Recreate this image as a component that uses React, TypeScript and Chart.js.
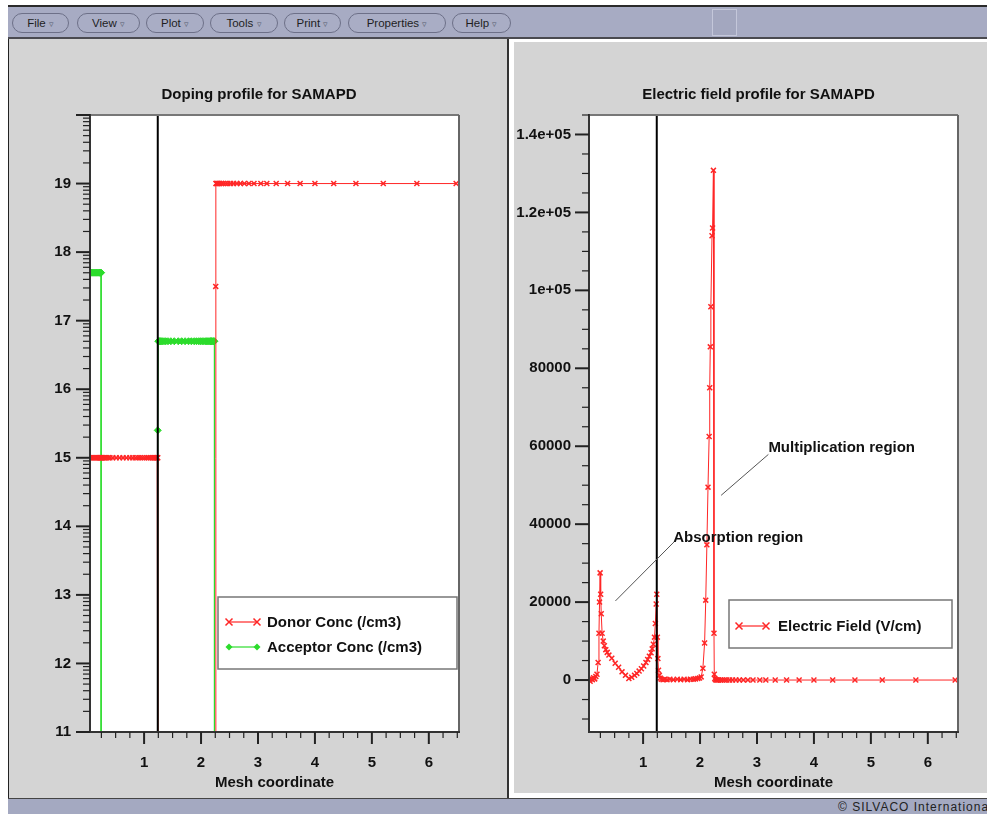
import React, { useEffect, useRef } from 'react';
import { Chart, registerables } from 'chart.js';

Chart.register(...registerables);

const FONT = "'Liberation Sans', Arial, Helvetica, sans-serif";
const RED = '#ff2626';
const GREEN = '#2cdc2c';
const INK = '#111111';

type Pt = [number, number];

// ---------------- data ----------------
const meshTicksX = [1, 2, 3, 4, 5, 6];
const dopingTicksY = [11, 12, 13, 14, 15, 16, 17, 18, 19];
const fieldTicksY = [0, 20000, 40000, 60000, 80000, 100000, 120000, 140000];
const fieldTickLabels = ['0', '20000', '40000', '60000', '80000', '1e+05', '1.2e+05', '1.4e+05'];
const junctionX = 1.24;

// log10 of donor concentration (/cm3); 10 = below plotted range
const donorConc: Pt[] = [
  [0.05, 15], [0.07, 15], [0.09, 15], [0.11, 15], [0.13, 15], [0.15, 15], [0.17, 15], [0.19, 15],
  [0.21, 15], [0.225, 15], [0.235, 15], [0.245, 15], [0.255, 15], [0.265, 15], [0.28, 15], [0.3, 15],
  [0.32, 15], [0.345, 15], [0.37, 15], [0.4, 15], [0.45, 15], [0.51, 15], [0.57, 15], [0.63, 15],
  [0.69, 15], [0.75, 15], [0.8, 15], [0.85, 15], [0.89, 15], [0.93, 15], [0.97, 15], [1.01, 15],
  [1.05, 15], [1.08, 15], [1.11, 15], [1.14, 15], [1.16, 15], [1.18, 15], [1.2, 15], [1.215, 15],
  [1.23, 15], [1.24, 15],
  [1.24, 10], [2.258, 10],
  [2.258, 17.5], [2.262, 19], [2.27, 19], [2.29, 19], [2.31, 19], [2.33, 19], [2.36, 19],
  [2.39, 19], [2.43, 19], [2.47, 19], [2.52, 19], [2.57, 19], [2.63, 19], [2.69, 19], [2.76, 19],
  [2.84, 19], [2.93, 19], [3.05, 19], [3.155, 19], [3.32, 19], [3.52, 19], [3.74, 19], [4.0, 19],
  [4.33, 19], [4.72, 19], [5.2, 19], [5.79, 19], [6.48, 19],
];

// log10 of acceptor concentration (/cm3); 10 = below plotted range
const acceptorConc: Pt[] = [
  [0.05, 17.7], [0.07, 17.7], [0.09, 17.7], [0.11, 17.7], [0.13, 17.7], [0.15, 17.7], [0.17, 17.7],
  [0.19, 17.7], [0.21, 17.7], [0.225, 17.7], [0.235, 17.7], [0.245, 17.7],
  [0.245, 10], [1.24, 10], [1.24, 15.4],
  [1.25, 16.7], [1.26, 16.7], [1.27, 16.7], [1.285, 16.7], [1.3, 16.7], [1.32, 16.7], [1.35, 16.7],
  [1.38, 16.7], [1.42, 16.7], [1.47, 16.7], [1.53, 16.7], [1.6, 16.7], [1.66, 16.7], [1.72, 16.7],
  [1.78, 16.7], [1.83, 16.7], [1.88, 16.7], [1.92, 16.7], [1.96, 16.7], [1.99, 16.7], [2.02, 16.7],
  [2.05, 16.7], [2.08, 16.7], [2.1, 16.7], [2.12, 16.7], [2.14, 16.7], [2.16, 16.7], [2.17, 16.7],
  [2.18, 16.7], [2.19, 16.7], [2.21, 16.7], [2.22, 16.7], [2.235, 16.7],
  [2.235, 10], [6.48, 10],
];

// electric field (V/cm)
const electricField: Pt[] = [
  [0.05, 200], [0.07, -300], [0.09, 400], [0.11, 100], [0.13, 600], [0.15, 300], [0.17, 900],
  [0.19, 1500], [0.21, 4500], [0.225, 12000], [0.235, 20000], [0.245, 27500],
  [0.255, 22000], [0.265, 17000], [0.28, 12000], [0.3, 10000], [0.32, 8800], [0.345, 7800],
  [0.37, 7100], [0.4, 6400], [0.45, 5600], [0.51, 4300], [0.57, 3300], [0.63, 2100], [0.69, 1200],
  [0.75, 400], [0.8, 700], [0.85, 1200], [0.89, 1700], [0.93, 2300], [0.97, 2900], [1.01, 3600],
  [1.05, 4500], [1.08, 5300], [1.11, 6100], [1.14, 7000], [1.16, 8000], [1.18, 9200], [1.2, 11000],
  [1.215, 14500], [1.23, 19500], [1.24, 22000],
  [1.25, 11000], [1.26, 5500], [1.27, 2500], [1.285, 1200], [1.3, 500], [1.32, 200], [1.35, 100],
  [1.38, 200], [1.42, 100], [1.47, 200], [1.53, 100], [1.6, 200], [1.66, 100], [1.72, 200],
  [1.78, 100], [1.83, 200], [1.88, 200], [1.92, 300], [1.96, 400], [1.99, 500], [2.02, 800],
  [2.05, 3000], [2.08, 9500], [2.1, 20500], [2.12, 34700], [2.14, 49500], [2.16, 62500],
  [2.17, 75000], [2.18, 85500], [2.19, 95800], [2.21, 114000], [2.22, 116000], [2.235, 130800],
  [2.245, 12000], [2.25, 1500], [2.26, 400], [2.27, 100], [2.29, 0], [2.31, 0], [2.33, 0],
  [2.36, 0], [2.39, 0], [2.43, 0], [2.47, 0], [2.52, 0], [2.57, 0], [2.63, 0], [2.69, 0],
  [2.76, 0], [2.84, 0], [2.93, 0], [3.05, 0], [3.155, 0], [3.32, 0], [3.52, 0], [3.74, 0],
  [4.0, 0], [4.33, 0], [4.72, 0], [5.2, 0], [5.79, 0], [6.48, 0],
];

// ---------------- helpers ----------------
const toXY = (p: Pt[]) => p.map(([x, y]) => ({ x, y }));

function range(a: number, b: number, step: number) {
  const out: number[] = [];
  for (let v = a; v <= b + 1e-9; v += step) out.push(+v.toFixed(6));
  return out;
}

const xMinorTicks = range(0.25, 6.5, 0.25).filter((v) => Math.abs(v - Math.round(v)) > 1e-6);
const dopingMinorTicks: number[] = [];
for (let n = 11; n < 20; n++) for (let k = 2; k <= 9; k++) dopingMinorTicks.push(n + Math.log10(k));
const fieldMinorTicks = range(-10000, 145000, 5000).filter((v) => v % 20000 !== 0);

function drawMarker(ctx: CanvasRenderingContext2D, kind: string, x: number, y: number, color: string) {
  ctx.save();
  ctx.strokeStyle = color;
  ctx.fillStyle = color;
  ctx.lineWidth = 1.5;
  if (kind === 'cross') {
    const r = 3.5;
    ctx.beginPath();
    ctx.moveTo(x - r, y - r); ctx.lineTo(x + r, y + r);
    ctx.moveTo(x + r, y - r); ctx.lineTo(x - r, y + r);
    ctx.stroke();
  } else {
    const r = 3.5;
    ctx.beginPath();
    ctx.moveTo(x, y - r); ctx.lineTo(x + r, y); ctx.lineTo(x, y + r); ctx.lineTo(x - r, y);
    ctx.closePath();
    ctx.fill();
  }
  ctx.restore();
}

interface DecorCfg {
  title: { text: string; x: number; y: number };
  yMajor: number[];
  yMinor: number[];
  legend: {
    rightInset: number; bottomInset: number; width: number; height: number;
    sampleX: number; sampleLen: number; textX: number;
    rows: { label: string; color: string; marker: string; dy: number }[];
  };
  notes: { text: string; at: Pt; from: Pt; to: Pt }[];
}

function makeDecor(cfg: DecorCfg) {
  return {
    id: 'decor',
    beforeDraw(chart: any) {
      const { ctx, chartArea: a } = chart;
      ctx.save();
      ctx.fillStyle = '#ffffff';
      ctx.fillRect(a.left, a.top, a.right - a.left, a.bottom - a.top);
      ctx.fillStyle = INK;
      ctx.font = `bold 15px ${FONT}`;
      ctx.textAlign = 'center';
      ctx.textBaseline = 'middle';
      ctx.fillText(cfg.title.text, cfg.title.x, cfg.title.y);
      ctx.restore();
    },
    afterDatasetsDraw(chart: any) {
      const { ctx, chartArea: a, scales } = chart;
      const xs = scales.x;
      const ys = scales.y;
      const seg = (x1: number, y1: number, x2: number, y2: number, w: number, c: string) => {
        ctx.strokeStyle = c;
        ctx.lineWidth = w;
        ctx.beginPath();
        ctx.moveTo(x1, y1);
        ctx.lineTo(x2, y2);
        ctx.stroke();
      };
      ctx.save();

      // annotations
      for (const n of cfg.notes) {
        seg(xs.getPixelForValue(n.from[0]), ys.getPixelForValue(n.from[1]),
          xs.getPixelForValue(n.to[0]), ys.getPixelForValue(n.to[1]), 1, '#555');
        ctx.fillStyle = INK;
        ctx.font = `bold 15px ${FONT}`;
        ctx.textAlign = 'left';
        ctx.textBaseline = 'middle';
        ctx.fillText(n.text, xs.getPixelForValue(n.at[0]), ys.getPixelForValue(n.at[1]));
      }

      // frame
      seg(a.left, a.top, a.right, a.top, 2, '#777');
      seg(a.right, a.top, a.right, a.bottom, 2, '#666');
      seg(a.left, a.top - 1, a.left, a.bottom + 1, 2, '#333');
      seg(a.left - 1, a.bottom, a.right + 1, a.bottom, 2, '#333');

      // x ticks
      for (const v of xMinorTicks) {
        const px = xs.getPixelForValue(v);
        seg(px, a.bottom, px, a.bottom + 6, 1.2, '#222');
      }
      for (const v of meshTicksX) {
        const px = xs.getPixelForValue(v);
        seg(px, a.bottom, px, a.bottom + 12, 2, '#222');
      }
      // y ticks
      for (const v of cfg.yMinor) {
        const py = ys.getPixelForValue(v);
        if (py < a.top - 0.5 || py > a.bottom + 0.5) continue;
        seg(a.left - 7, py, a.left, py, 1.2, '#222');
      }
      for (const v of cfg.yMajor) {
        const py = ys.getPixelForValue(v);
        seg(a.left - 14, py, a.left, py, 2, '#222');
      }

      // legend
      const L = cfg.legend;
      const bx = a.right - L.rightInset - L.width;
      const by = a.bottom - L.bottomInset - L.height;
      ctx.fillStyle = '#ffffff';
      ctx.fillRect(bx, by, L.width, L.height);
      ctx.strokeStyle = '#777';
      ctx.lineWidth = 1.5;
      ctx.strokeRect(bx, by, L.width, L.height);
      for (const r of L.rows) {
        const ry = by + r.dy;
        seg(bx + L.sampleX, ry, bx + L.sampleX + L.sampleLen, ry, 1.2, r.color);
        drawMarker(ctx, r.marker, bx + L.sampleX, ry, r.color);
        drawMarker(ctx, r.marker, bx + L.sampleX + L.sampleLen, ry, r.color);
        ctx.fillStyle = INK;
        ctx.font = `bold 15px ${FONT}`;
        ctx.textAlign = 'left';
        ctx.textBaseline = 'middle';
        ctx.fillText(r.label, bx + L.textX, ry + 1);
      }
      ctx.restore();
    },
  };
}

interface PlotSpec {
  padTop: number;
  padRight: number;
  yWidth: number;
  xHeight: number;
  xTitleBottom: number;
  yMin: number;
  yMax: number;
  yTicks: number[];
  yLabels: string[];
  yPad: number;
  datasets: any[];
  decor: DecorCfg;
}

function buildConfig(p: PlotSpec): any {
  const tickFont = { family: FONT, size: 15, weight: 'bold' as const };
  return {
    type: 'line',
    data: { datasets: p.datasets },
    plugins: [makeDecor(p.decor)],
    options: {
      responsive: false,
      animation: false,
      devicePixelRatio: 1,
      events: [],
      layout: { padding: { left: 0, right: p.padRight, top: p.padTop, bottom: 0 } },
      elements: { line: { tension: 0 } },
      plugins: {
        legend: { display: false },
        tooltip: { enabled: false },
        title: { display: false },
      },
      scales: {
        x: {
          type: 'linear',
          min: 0.05,
          max: 6.53,
          afterBuildTicks: (s: any) => {
            s.ticks = meshTicksX.map((v) => ({ value: v }));
          },
          afterFit: (s: any) => {
            s.height = p.xHeight;
          },
          ticks: {
            color: INK,
            font: tickFont,
            padding: 9.5,
            maxRotation: 0,
            autoSkip: false,
            callback: (v: any) => String(v),
          },
          grid: { display: false, drawTicks: true, tickLength: 12 },
          border: { display: false },
          title: {
            display: true,
            text: 'Mesh coordinate',
            color: INK,
            font: tickFont,
            padding: { top: 0, bottom: p.xTitleBottom },
          },
        },
        y: {
          type: 'linear',
          min: p.yMin,
          max: p.yMax,
          afterBuildTicks: (s: any) => {
            s.ticks = p.yTicks.map((v) => ({ value: v }));
          },
          afterFit: (s: any) => {
            s.width = p.yWidth;
          },
          ticks: {
            color: INK,
            font: tickFont,
            padding: p.yPad,
            autoSkip: false,
            callback: (v: any) => {
              const i = p.yTicks.indexOf(Number(v));
              return i >= 0 ? p.yLabels[i] : '';
            },
          },
          grid: { display: false, drawTicks: true, tickLength: 14 },
          border: { display: false },
        },
      },
    },
  };
}

function junctionDataset(yMin: number, yMax: number) {
  return {
    label: 'junction',
    data: [{ x: junctionX, y: yMin }, { x: junctionX, y: yMax }],
    borderColor: '#000000',
    borderWidth: 2,
    pointRadius: 0,
  };
}

const dopingSpec: PlotSpec = {
  padTop: 77,
  padRight: 47,
  yWidth: 81,
  xHeight: 65,
  xTitleBottom: 4.7,
  yMin: 11,
  yMax: 20,
  yTicks: dopingTicksY,
  yLabels: dopingTicksY.map(String),
  yPad: 5,
  datasets: [
    junctionDataset(11, 20),
    {
      label: 'Donor Conc (/cm3)',
      data: toXY(donorConc),
      borderColor: RED,
      borderWidth: 1,
      pointStyle: 'crossRot',
      pointRadius: 3.5,
      pointBorderColor: RED,
      pointBorderWidth: 1.5,
    },
    {
      label: 'Acceptor Conc (/cm3)',
      data: toXY(acceptorConc),
      borderColor: GREEN,
      borderWidth: 1,
      pointStyle: 'rectRot',
      pointRadius: 3.5,
      pointBorderColor: GREEN,
      pointBackgroundColor: GREEN,
      pointBorderWidth: 1,
    },
  ],
  decor: {
    title: { text: 'Doping profile for SAMAPD', x: 250, y: 56.5 },
    yMajor: [...dopingTicksY, 20],
    yMinor: dopingMinorTicks,
    legend: {
      rightInset: 2, bottomInset: 63, width: 239, height: 72,
      sampleX: 11, sampleLen: 28, textX: 49,
      rows: [
        { label: 'Donor Conc (/cm3)', color: RED, marker: 'cross', dy: 25 },
        { label: 'Acceptor Conc (/cm3)', color: GREEN, marker: 'diamond', dy: 50 },
      ],
    },
    notes: [],
  },
};

const fieldSpec: PlotSpec = {
  padTop: 73,
  padRight: 29,
  yWidth: 75,
  xHeight: 61,
  xTitleBottom: 0.7,
  yMin: -13333,
  yMax: 145000,
  yTicks: fieldTicksY,
  yLabels: fieldTickLabels,
  yPad: 4,
  datasets: [
    junctionDataset(-13333, 145000),
    {
      label: 'Electric Field (V/cm)',
      data: toXY(electricField),
      borderColor: RED,
      borderWidth: 1,
      pointStyle: 'crossRot',
      pointRadius: 3.5,
      pointBorderColor: RED,
      pointBorderWidth: 1.5,
    },
  ],
  decor: {
    title: { text: 'Electric field profile for SAMAPD', x: 244.5, y: 52.5 },
    yMajor: fieldTicksY,
    yMinor: fieldMinorTicks,
    legend: {
      rightInset: 6, bottomInset: 84, width: 223, height: 48,
      sampleX: 10, sampleLen: 27, textX: 49,
      rows: [{ label: 'Electric Field (V/cm)', color: RED, marker: 'cross', dy: 26 }],
    },
    notes: [
      { text: 'Multiplication region', at: [3.2, 59700], from: [3.2, 57900], to: [2.37, 47400] },
      { text: 'Absorption region', at: [1.53, 36600], from: [1.554, 35600], to: [0.514, 20300] },
    ],
  },
};

function PlotCanvas(props: { spec: PlotSpec; left: number; top: number; width: number; height: number }) {
  const ref = useRef<HTMLCanvasElement>(null);
  useEffect(() => {
    const chart = new Chart(ref.current as HTMLCanvasElement, buildConfig(props.spec));
    return () => chart.destroy();
  }, []);
  return (
    <canvas
      ref={ref}
      width={props.width}
      height={props.height}
      style={{ position: 'absolute', left: props.left, top: props.top, width: props.width, height: props.height }}
    />
  );
}

const menuItems: { label: string; left: number; width: number }[] = [
  { label: 'File', left: 12, width: 57 },
  { label: 'View', left: 77, width: 63 },
  { label: 'Plot', left: 146, width: 58 },
  { label: 'Tools', left: 210, width: 68 },
  { label: 'Print', left: 284, width: 57 },
  { label: 'Properties', left: 348, width: 98 },
  { label: 'Help', left: 452, width: 59 },
];

export default function App() {
  const abs = (s: React.CSSProperties): React.CSSProperties => ({ position: 'absolute', boxSizing: 'border-box', ...s });
  return (
    <div style={{ position: 'fixed', left: 0, top: 0, width: 987, height: 814, background: '#ffffff', overflow: 'hidden', fontFamily: FONT }}>
      {/* toolbar */}
      <div style={abs({ left: 8, top: 5, width: 979, height: 34, background: '#a7abc3', borderTop: '2px solid #2a2a2a', borderBottom: '2px solid #4a4a50' })} />
      {menuItems.map((m) => (
        <div
          key={m.label}
          style={abs({
            left: m.left, top: 13, width: m.width, height: 20, borderRadius: 10,
            border: '1px solid #6d7088', background: '#a9adc5', color: '#1e1e1e',
            fontSize: 11.5, lineHeight: '18px', textAlign: 'center', whiteSpace: 'nowrap',
          })}
        >
          {m.label} <span style={{ color: '#5a5d70', fontSize: 9 }}>▿</span>
        </div>
      ))}
      <div style={abs({ left: 712, top: 9, width: 25, height: 27, background: '#a3a7bf', border: '1px solid #c4c7da' })} />

      {/* left panel */}
      <div style={abs({ left: 8, top: 39, width: 501, height: 759, background: '#d4d4d4', borderLeft: '1px solid #222', borderRight: '2px solid #333' })} />
      {/* right panel */}
      <div style={abs({ left: 510, top: 39, width: 477, height: 759, background: '#ffffff' })} />
      <div style={abs({ left: 514, top: 42, width: 473, height: 751, background: '#d4d4d4' })} />
      {/* status bar */}
      <div style={abs({ left: 8, top: 798, width: 979, height: 16, background: '#a4a9c1', borderTop: '1px solid #444' })} />
      <div style={abs({ left: 838, top: 800, fontSize: 12, color: '#222', whiteSpace: 'nowrap', lineHeight: '14px', letterSpacing: 1 })}>
        © SILVACO International
      </div>

      <PlotCanvas spec={dopingSpec} left={9} top={38} width={497} height={759} />
      <PlotCanvas spec={fieldSpec} left={514} top={42} width={473} height={751} />
    </div>
  );
}
